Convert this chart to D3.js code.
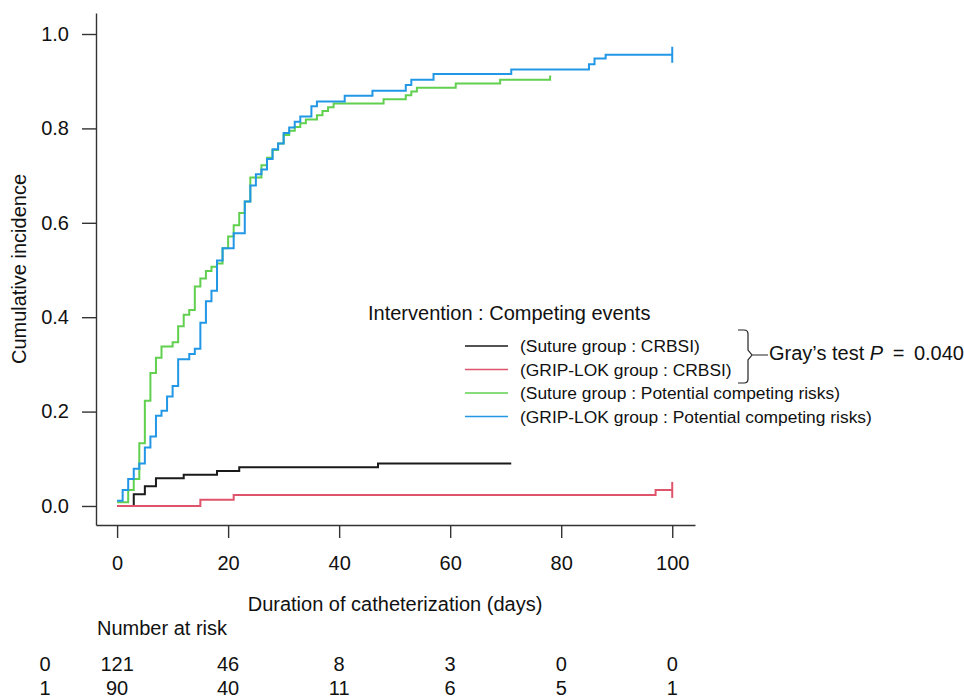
<!DOCTYPE html>
<html>
<head>
<meta charset="utf-8">
<script src="https://cdn.jsdelivr.net/npm/d3@7"></script>
<style>
  body { margin: 0; background: #fff; }
  svg text { font-family: "Liberation Sans", Arial, sans-serif; fill: #111; }
</style>
</head>
<body>
<svg></svg>
<script>
// step curves: event times (days) and cumulative incidence after each step
const sutureCrbsiTimes = [0, 3, 5, 7, 12, 18, 22, 47, 71];
const sutureCrbsiValues = [0, 0.025, 0.042, 0.059, 0.066, 0.074, 0.082, 0.090, 0.090];

const gripCrbsiTimes = [0, 15, 21, 97, 100];
const gripCrbsiValues = [0, 0.013, 0.023, 0.034, 0.034];

const sutureCompTimes = [0, 2, 3, 4, 5, 6, 7, 8, 10, 11, 12, 13, 14, 15, 16, 17, 18, 19, 20, 21, 22, 23, 24, 26, 27, 28, 29, 30, 31, 32, 33, 34, 36, 37, 38, 39, 48, 52, 53, 54, 61, 69, 78];
const sutureCompValues = [0.008, 0.034, 0.057, 0.133, 0.223, 0.282, 0.314, 0.338, 0.347, 0.381, 0.405, 0.415, 0.465, 0.482, 0.498, 0.507, 0.514, 0.546, 0.571, 0.595, 0.621, 0.645, 0.696, 0.722, 0.738, 0.754, 0.768, 0.786, 0.795, 0.803, 0.811, 0.819, 0.828, 0.837, 0.845, 0.853, 0.862, 0.870, 0.878, 0.886, 0.895, 0.903, 0.912];

const gripCompTimes = [0, 1, 2, 3, 4, 5, 6, 7, 8, 9, 10, 11, 13, 14, 15, 16, 17, 18, 19, 21, 23, 24, 25, 26, 27, 28, 29, 30, 31, 32, 33, 35, 36, 41, 46, 52, 53, 57, 71, 85, 86, 88, 100];
const gripCompValues = [0.011, 0.034, 0.057, 0.079, 0.090, 0.124, 0.147, 0.191, 0.202, 0.232, 0.254, 0.311, 0.322, 0.333, 0.388, 0.434, 0.456, 0.520, 0.546, 0.578, 0.645, 0.679, 0.703, 0.713, 0.735, 0.756, 0.768, 0.790, 0.802, 0.814, 0.825, 0.847, 0.857, 0.869, 0.880, 0.892, 0.903, 0.915, 0.925, 0.936, 0.948, 0.956, 0.956];

const legendLabels = [
  "(Suture group : CRBSI)",
  "(GRIP-LOK group : CRBSI)",
  "(Suture group : Potential competing risks)",
  "(GRIP-LOK group : Potential competing risks)"
];
const curveColors = ["#1a1a1a", "#DF536B", "#61D04F", "#2297E6"];

const xTicks = [0, 20, 40, 60, 80, 100];
const yTicks = [0, 0.2, 0.4, 0.6, 0.8, 1.0];

const riskGroups = ["0", "1"];
const riskSuture = [121, 46, 8, 3, 0, 0];
const riskGrip = [90, 40, 11, 6, 5, 1];

const size = {w: 964, h: 700};
const svg = d3.select('svg')
  .attr('width', size.w)
  .attr('height', size.h);

// scales (R style: axes extend 4% beyond data range)
const x = d3.scaleLinear().domain([-3.8, 104.1]).range([96, 695]);
const y = d3.scaleLinear().domain([-0.0403, 1.0445]).range([525, 13]);

// axes
const yAxis = svg.append('g')
  .attr('transform', 'translate(96,0)')
  .call(d3.axisLeft(y).tickValues(yTicks).tickFormat(d3.format('.1f')).tickSize(14).tickSizeOuter(0).tickPadding(13));
const xAxis = svg.append('g')
  .attr('transform', 'translate(0,525)')
  .call(d3.axisBottom(x).tickValues(xTicks).tickSize(13).tickSizeOuter(0).tickPadding(18));

[yAxis, xAxis].forEach(function (ax) {
  ax.select('.domain').attr('stroke', '#333').attr('stroke-width', 1.4);
  ax.selectAll('.tick line').attr('stroke', '#333').attr('stroke-width', 1.4);
  ax.selectAll('.tick text')
    .style('font-family', '"Liberation Sans", Arial, sans-serif')
    .style('font-size', '20px')
    .attr('fill', '#111');
});

// curves
const curves = [
  {t: sutureCrbsiTimes, v: sutureCrbsiValues, tick: false},
  {t: gripCrbsiTimes, v: gripCrbsiValues, tick: true},
  {t: sutureCompTimes, v: sutureCompValues, tick: false},
  {t: gripCompTimes, v: gripCompValues, tick: true}
];

const line = d3.line()
  .x(d => x(d[0]))
  .y(d => y(d[1]))
  .curve(d3.curveStepAfter);

const g = svg.append('g').classed('curves', true);
curves.forEach(function (c, i) {
  const pts = c.t.map((t, j) => [t, c.v[j]]);
  g.append('path')
    .attr('d', line(pts))
    .attr('fill', 'none')
    .attr('stroke', curveColors[i])
    .attr('stroke-width', 2);
  if (c.tick) {
    const last = pts[pts.length - 1];
    g.append('line')
      .attr('x1', x(last[0])).attr('x2', x(last[0]))
      .attr('y1', y(last[1]) - 8).attr('y2', y(last[1]) + 8)
      .attr('stroke', curveColors[i])
      .attr('stroke-width', 2);
  }
});

// axis titles
svg.append('text')
  .attr('transform', 'translate(26,269) rotate(-90)')
  .attr('text-anchor', 'middle')
  .style('font-size', '20px')
  .text('Cumulative incidence');

svg.append('text')
  .attr('x', 395).attr('y', 611)
  .attr('text-anchor', 'middle')
  .style('font-size', '20px')
  .text('Duration of catheterization (days)');

// legend
const lg = svg.append('g').classed('legend', true);
lg.append('text')
  .attr('x', 368).attr('y', 320)
  .style('font-size', '20px')
  .text('Intervention : Competing events');

lg.selectAll('line.key')
  .data(legendLabels)
  .enter()
  .append('line')
  .classed('key', true)
  .attr('x1', 465).attr('x2', 508)
  .attr('y1', (d, i) => 346 + i * 23.5)
  .attr('y2', (d, i) => 346 + i * 23.5)
  .attr('stroke', (d, i) => curveColors[i])
  .attr('stroke-width', 1.5);

lg.selectAll('text.item')
  .data(legendLabels)
  .enter()
  .append('text')
  .classed('item', true)
  .attr('x', 520)
  .attr('y', (d, i) => 352 + i * 23.5)
  .style('font-size', '17.4px')
  .text(d => d);

// brace joining the two CRBSI rows
lg.append('path')
  .attr('d', 'M738,330 L744,330 Q748,330 748,334 L748,350 L752,355 L748,360 L748,379 Q748,383 744,383 L738,383 M752,355 L768,355')
  .attr('fill', 'none')
  .attr('stroke', '#222')
  .attr('stroke-width', 1.2);

const gray = lg.append('text')
  .attr('x', 769).attr('y', 360)
  .style('font-size', '20px');
gray.append('tspan').text('Gray\u2019s test ');
gray.append('tspan').style('font-style', 'italic').text('P');
gray.append('tspan').text(' \u2009=\u2009 0.040');

// number at risk table
svg.append('text')
  .attr('x', 97).attr('y', 635)
  .style('font-size', '20px')
  .text('Number at risk');

[riskSuture, riskGrip].forEach(function (row, r) {
  const yy = 671 + r * 24;
  svg.append('text')
    .attr('x', 45).attr('y', yy)
    .attr('text-anchor', 'middle')
    .style('font-size', '20px')
    .text(riskGroups[r]);
  svg.selectAll('text.risk' + r)
    .data(row)
    .enter()
    .append('text')
    .classed('risk' + r, true)
    .attr('x', (d, i) => x(xTicks[i]))
    .attr('y', yy)
    .attr('text-anchor', 'middle')
    .style('font-size', '20px')
    .text(d => d);
});
</script>
</body>
</html>
